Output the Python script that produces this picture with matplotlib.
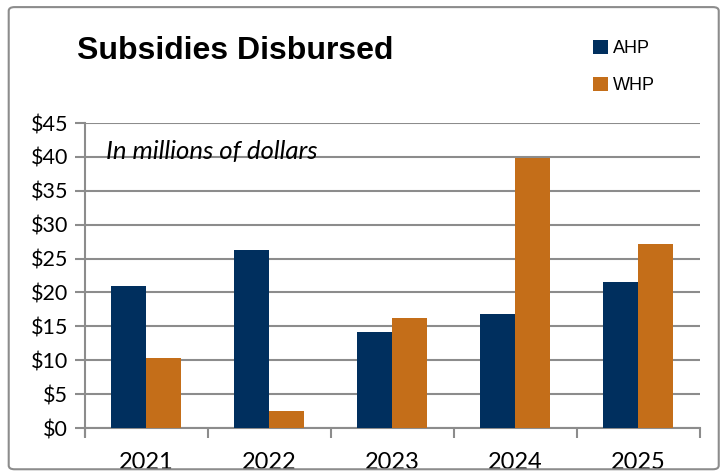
import numpy as np
import matplotlib.pyplot as plt
from matplotlib.patches import FancyBboxPatch

# data
years = ['2021', '2022', '2023', '2024', '2025']
ahp = [20.9, 26.3, 14.1, 16.8, 21.5]
whp = [10.35, 2.5, 16.2, 39.8, 27.1]
y_ticks = [0, 5, 10, 15, 20, 25, 30, 35, 40, 45]

navy = '#002F5E'
orange = '#C46E19'
grid_gray = '#8C8C8C'

fig = plt.figure(figsize=(7.26, 4.74), dpi=100)

# outer border of the chart area
fig.patches.append(FancyBboxPatch((0.012, 0.01), 0.978, 0.975,
                                  boxstyle='round,pad=0,rounding_size=0.008',
                                  transform=fig.transFigure, fill=False,
                                  edgecolor='#8C8C8C', linewidth=1.5))

ax = fig.add_axes([0.117, 0.097, 0.847, 0.6435])

x = np.arange(len(years))
w = 0.285
ax.bar(x - w / 2, ahp, w, color=navy, label='AHP', zorder=3)
ax.bar(x + w / 2, whp, w, color=orange, label='WHP', zorder=3)

ax.set_xlim(-0.5, len(years) - 0.5)
ax.set_ylim(0, 45)
ax.set_yticks(y_ticks)
ax.set_yticklabels(['$' + str(v) for v in y_ticks], family='Lato', fontsize=15.5)
ax.set_xticks(x)
ax.set_xticklabels(years, family='Lato', fontsize=17)
ax.set_xticks(np.arange(len(years) + 1) - 0.5, minor=True)
ax.tick_params(axis='x', which='major', length=0, pad=17)
ax.tick_params(axis='x', which='minor', length=7, color=grid_gray, width=1.5)
ax.tick_params(axis='y', length=7, color=grid_gray, width=1.5, pad=5)

ax.yaxis.grid(True, color=grid_gray, linewidth=1.5, zorder=0)
ax.set_axisbelow(True)
for s in ['top', 'right']:
    ax.spines[s].set_visible(False)
for s in ['left', 'bottom']:
    ax.spines[s].set_color(grid_gray)
    ax.spines[s].set_linewidth(1.5)
ax.spines['left'].set_bounds(-1.2, 45)

ax.text(0.034, 0.905, 'In millions of dollars', transform=ax.transAxes,
        family='Lato', style='italic', fontsize=18.5, va='center', zorder=4)

fig.text(0.106, 0.893, 'Subsidies Disbursed', family='Liberation Sans',
         fontweight='bold', fontsize=23, va='center')

leg = fig.legend(loc='upper left', bbox_to_anchor=(0.795, 0.95), frameon=False,
                 prop={'family': 'Liberation Sans', 'size': 13},
                 handlelength=0.8, handleheight=0.8, handletextpad=0.3,
                 labelspacing=1.1)

fig.savefig('out.png', dpi=100)
